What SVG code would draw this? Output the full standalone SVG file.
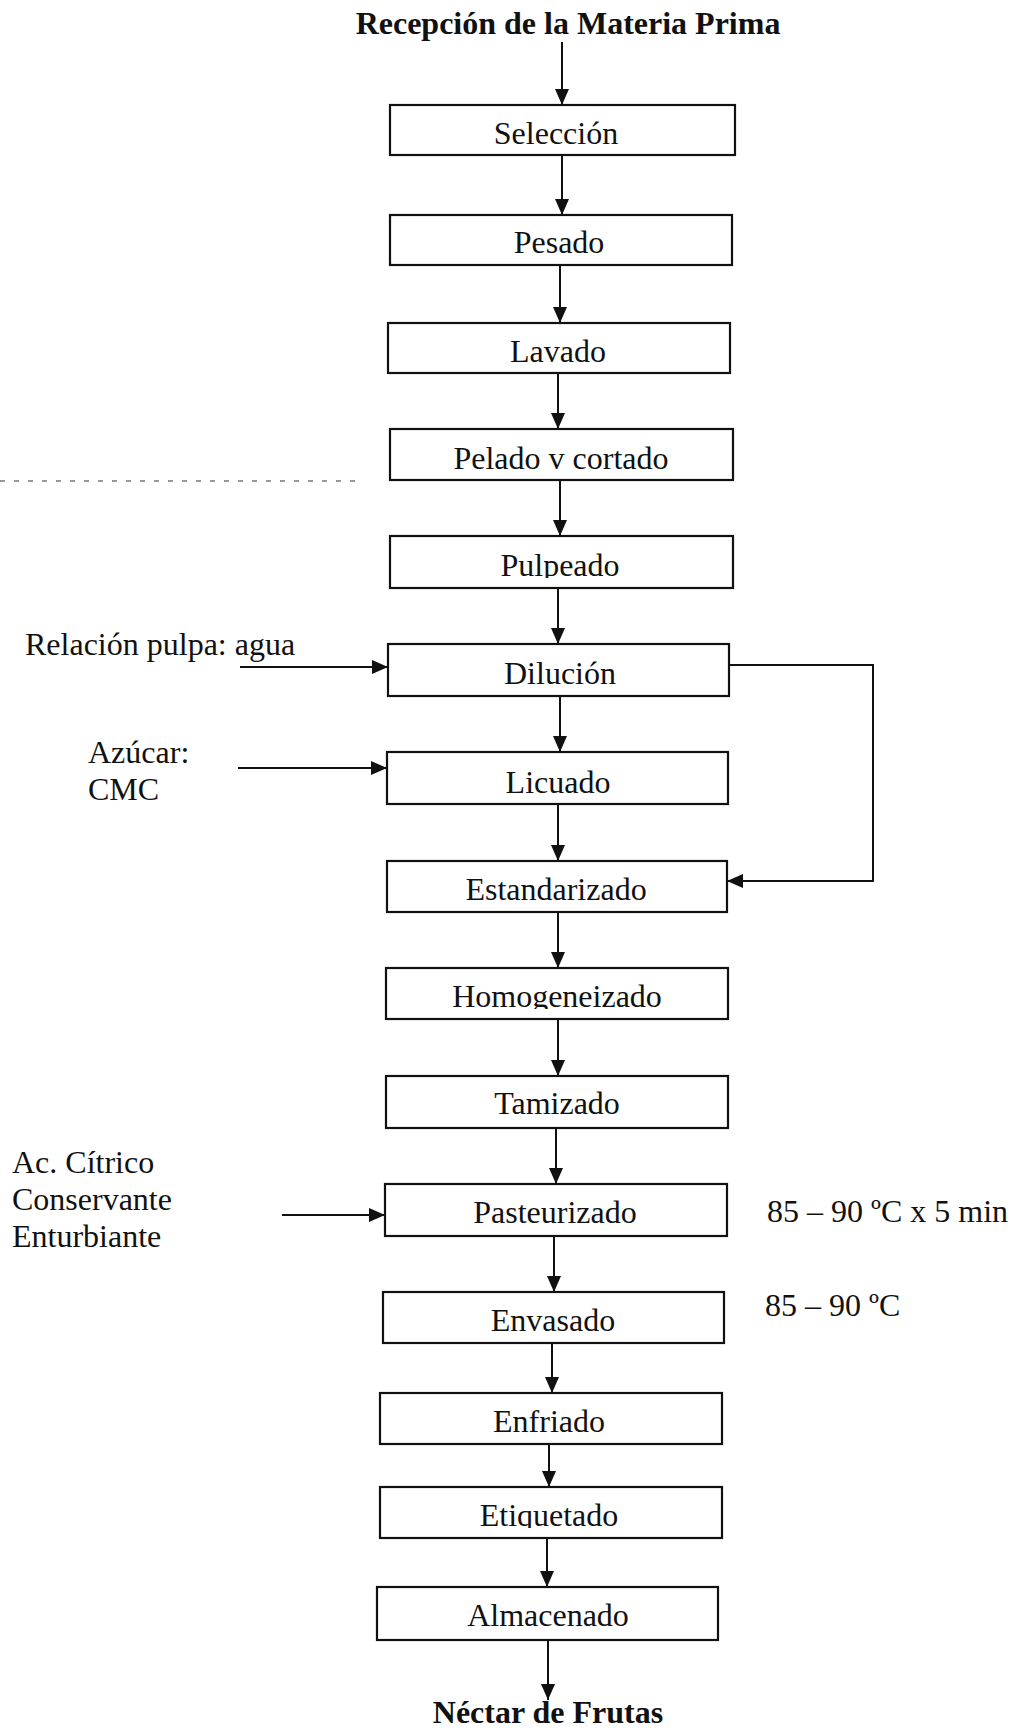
<svg xmlns="http://www.w3.org/2000/svg" width="1014" height="1730" viewBox="0 0 1014 1730">
<style>
.box{fill:#fff;stroke:#111;stroke-width:2.2}
.lbl{font-family:"Liberation Serif","Times New Roman",serif;font-size:32px;fill:#111}
.ttl{font-family:"Liberation Serif","Times New Roman",serif;font-size:32px;font-weight:bold;fill:#111}
.ctr{text-anchor:middle}
.ln{fill:none;stroke:#111;stroke-width:2}
.art{fill:none;stroke:#777;stroke-width:1.5;stroke-dasharray:5 9}
</style>
<defs>
<marker id="ah" markerUnits="userSpaceOnUse" markerWidth="16" markerHeight="14" viewBox="0 0 16 14" refX="16" refY="7" orient="auto">
<path d="M0,0 L16,7 L0,14 z" fill="#111"/>
</marker>
<clipPath id="cPul"><rect x="380" y="536" width="360" height="42"/></clipPath>
<clipPath id="cHom"><rect x="380" y="968" width="360" height="41"/></clipPath>
<clipPath id="cEti"><rect x="374" y="1487" width="360" height="41"/></clipPath>
</defs>
<rect width="1014" height="1730" fill="#fff"/>
<line class="art" x1="0" y1="481" x2="364" y2="481"/>

<g id="title"><text class="ttl ctr" x="568" y="34">Recepción de la Materia Prima</text></g>
<g id="n-seleccion"><rect class="box" x="390" y="105" width="345" height="50"/><text class="lbl ctr" x="556" y="144">Selección</text></g>
<g id="n-pesado"><rect class="box" x="390" y="215" width="342" height="50"/><text class="lbl ctr" x="559" y="253">Pesado</text></g>
<g id="n-lavado"><rect class="box" x="388" y="323" width="342" height="50"/><text class="lbl ctr" x="558" y="362">Lavado</text></g>
<g id="n-pelado"><rect class="box" x="390" y="429" width="343" height="51"/><text class="lbl ctr" x="561" y="469">Pelado v cortado</text></g>
<g id="n-pulpeado"><rect class="box" x="390" y="536" width="343" height="52"/><text class="lbl ctr" x="560" y="576" clip-path="url(#cPul)">Pulpeado</text></g>
<g id="n-dilucion"><rect class="box" x="388" y="644" width="341" height="52"/><text class="lbl ctr" x="560" y="684">Dilución</text></g>
<g id="n-licuado"><rect class="box" x="387" y="752" width="341" height="52"/><text class="lbl ctr" x="558" y="793">Licuado</text></g>
<g id="n-estandarizado"><rect class="box" x="387" y="861" width="340" height="51"/><text class="lbl ctr" x="556" y="900">Estandarizado</text></g>
<g id="n-homogeneizado"><rect class="box" x="386" y="968" width="342" height="51"/><text class="lbl ctr" x="557" y="1007" clip-path="url(#cHom)">Homogeneizado</text></g>
<g id="n-tamizado"><rect class="box" x="386" y="1076" width="342" height="52"/><text class="lbl ctr" x="557" y="1114">Tamizado</text></g>
<g id="n-pasteurizado"><rect class="box" x="385" y="1184" width="342" height="52"/><text class="lbl ctr" x="555" y="1223">Pasteurizado</text></g>
<g id="n-envasado"><rect class="box" x="383" y="1292" width="341" height="51"/><text class="lbl ctr" x="553" y="1331">Envasado</text></g>
<g id="n-enfriado"><rect class="box" x="380" y="1393" width="342" height="51"/><text class="lbl ctr" x="549" y="1432">Enfriado</text></g>
<g id="n-etiquetado"><rect class="box" x="380" y="1487" width="342" height="51"/><text class="lbl ctr" x="549" y="1526" clip-path="url(#cEti)">Etiquetado</text></g>
<g id="n-almacenado"><rect class="box" x="377" y="1587" width="341" height="53"/><text class="lbl ctr" x="548" y="1626">Almacenado</text></g>
<g id="end"><text class="ttl ctr" x="548" y="1723">Néctar de Frutas</text></g>

<g id="in-relacion"><text class="lbl" x="25" y="655">Relación pulpa: agua</text></g>
<g id="in-azucar"><text class="lbl" x="88" y="763">Azúcar:</text><text class="lbl" x="88" y="800">CMC</text></g>
<g id="in-acido"><text class="lbl" x="12" y="1173">Ac. Cítrico</text><text class="lbl" x="12" y="1210">Conservante</text><text class="lbl" x="12" y="1247">Enturbiante</text></g>
<g id="note-past"><text class="lbl" x="767" y="1222">85 – 90 ºC x 5 min</text></g>
<g id="note-env"><text class="lbl" x="765" y="1316">85 – 90 ºC</text></g>

<g id="connectors">
<line class="ln" x1="562" y1="42" x2="562" y2="105" marker-end="url(#ah)"/>
<line class="ln" x1="562" y1="155" x2="562" y2="215" marker-end="url(#ah)"/>
<line class="ln" x1="560" y1="265" x2="560" y2="323" marker-end="url(#ah)"/>
<line class="ln" x1="558" y1="373" x2="558" y2="429" marker-end="url(#ah)"/>
<line class="ln" x1="560" y1="480" x2="560" y2="536" marker-end="url(#ah)"/>
<line class="ln" x1="558" y1="588" x2="558" y2="644" marker-end="url(#ah)"/>
<line class="ln" x1="560" y1="696" x2="560" y2="752" marker-end="url(#ah)"/>
<line class="ln" x1="558" y1="804" x2="558" y2="861" marker-end="url(#ah)"/>
<line class="ln" x1="558" y1="912" x2="558" y2="968" marker-end="url(#ah)"/>
<line class="ln" x1="558" y1="1019" x2="558" y2="1076" marker-end="url(#ah)"/>
<line class="ln" x1="556" y1="1128" x2="556" y2="1184" marker-end="url(#ah)"/>
<line class="ln" x1="554" y1="1236" x2="554" y2="1292" marker-end="url(#ah)"/>
<line class="ln" x1="552" y1="1343" x2="552" y2="1393" marker-end="url(#ah)"/>
<line class="ln" x1="549" y1="1444" x2="549" y2="1487" marker-end="url(#ah)"/>
<line class="ln" x1="547" y1="1538" x2="547" y2="1587" marker-end="url(#ah)"/>
<line class="ln" x1="548" y1="1640" x2="548" y2="1700" marker-end="url(#ah)"/>
<line class="ln" x1="240" y1="667" x2="388" y2="667" marker-end="url(#ah)"/>
<line class="ln" x1="238" y1="768" x2="387" y2="768" marker-end="url(#ah)"/>
<line class="ln" x1="282" y1="1215" x2="385" y2="1215" marker-end="url(#ah)"/>
<path class="ln" d="M729,665 H873 V881 H727" marker-end="url(#ah)"/>
</g>
</svg>
